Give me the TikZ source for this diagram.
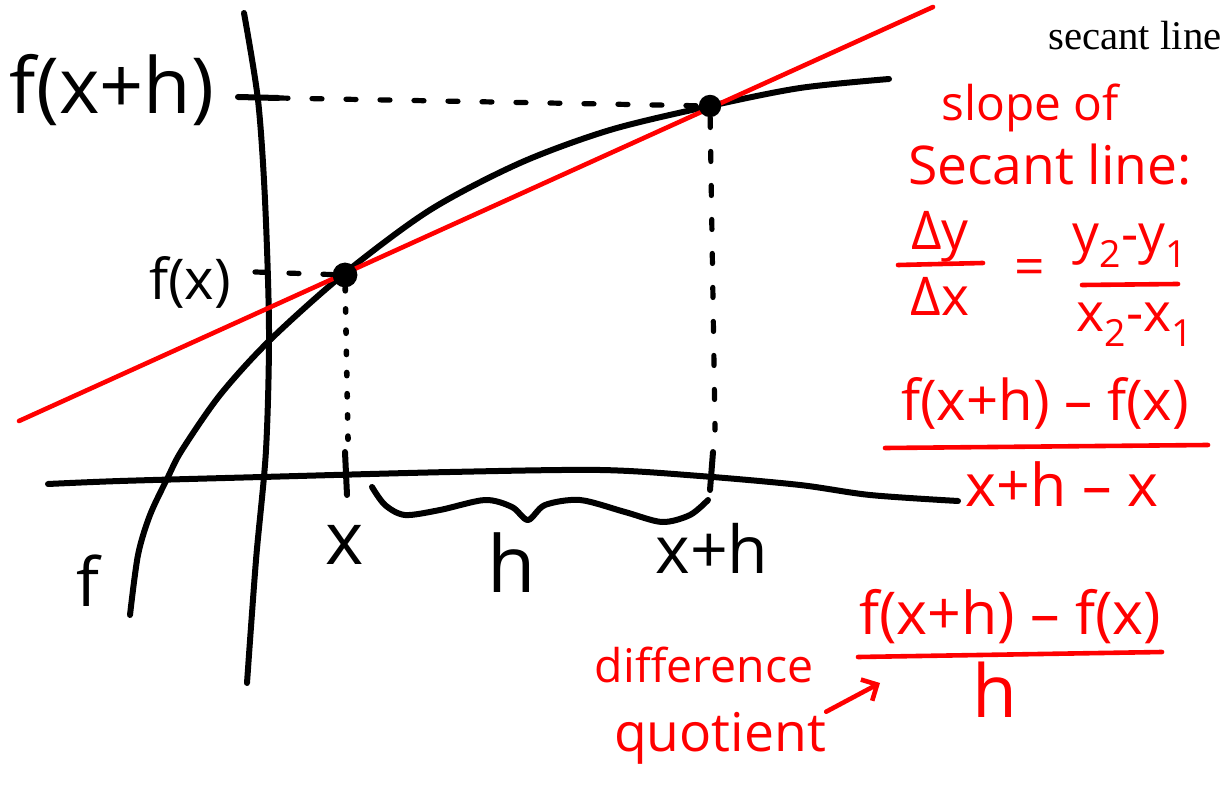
\documentclass[tikz,border=0pt]{standalone}
\usepackage{fontspec}
\setmainfont{Open Sans}
\newfontfamily\serifa{Liberation Serif}
\usetikzlibrary{arrows.meta, positioning}
\newcommand{\tam}[1]{\fontsize{#1}{#1}\selectfont}
\tikzstyle{trazo} = [line width=1.5mm, line cap=round, line join=round]
\tikzstyle{secante} = [line width=1.15mm, red, line cap=round]
\tikzstyle{guia} = [line width=1.3mm, line cap=round, dash pattern=on 2.5mm off 6mm]
\tikzstyle{punteada} = [line width=1.4mm, line cap=round, dash pattern=on 0.8mm off 4.5mm]
\tikzstyle{punto} = [circle, fill=black, inner sep=0pt, minimum size=6.2mm]
\tikzstyle{etiqueta} = [inner sep=0pt, text=black]
\tikzstyle{nota} = [inner sep=0pt, text=red]
\tikzstyle{barra} = [line width=1.15mm, red, line cap=round]
\tikzstyle{flecha} = [line width=1.15mm, red, line cap=round, -{Straight Barb[length=3mm, width=6mm]}]

\begin{document}
\begin{tikzpicture}[x=0.25mm, y=-0.25mm]
\useasboundingbox (0,0) rectangle (1232,787);

% Ejes
\draw [trazo] plot[smooth] coordinates {(244,13) (258,100) (265,200) (269,330) (266,450) (256,560) (247,683)};
\draw [trazo] plot[smooth] coordinates {(48,484) (120,481) (262,477) (450,472) (600,470) (700,476) (800,485) (870,495) (958,501)};

% Curva f
\draw [trazo] plot[smooth] coordinates {(130,615) (138,555) (150,515) (168,477) (182,450) (220,395) (270,340) (345,273) (430,210) (520,163) (610,130) (710,106) (800,88) (889,79)};

% Recta secante
\draw [secante] (19,421) -- (933,7);

% Puntos
\node (p1) [punto] at (345,275) {};
\node (p2) [punto, minimum size=5.6mm] at (710,106) {};

% Guias
\coordinate (t1) at (278,98);
\coordinate (t2) at (255,272);
\coordinate (t3) at (348,440);
\coordinate (t4) at (715,430);
\draw [trazo] (238,97) -- (t1);
\draw [guia] (t1) -- (p2);
\draw [guia] (t2) -- (p1);
\draw [punteada] (p1) -- (t3);
\draw [guia] (p2) -- (t4);
\draw [trazo] (345,452) -- (347,495);
\draw [trazo] (713,452) -- (710,490);

% Llave
\draw [trazo] plot[smooth] coordinates {(372,487) (385,505) (405,515) (440,510) (485,500) (512,507) (528,520) (545,505) (580,500) (625,512) (662,522) (690,515) (708,500)};

% Etiquetas
\node (lfxh) [etiqueta, font=\tam{55}] at (112,90)  {f(x+h)};
\node (lfx)  [etiqueta, font=\tam{40}] at (190,282) {f(x)};
\node (lx)   [etiqueta, font=\tam{52}] at (345,545) {x};
\node (lh)   [etiqueta, font=\tam{56}] at (512,563) {h};
\node (lxh)  [etiqueta, font=\tam{47}] at (712,548) {x+h};
\node (lf)   [etiqueta, font=\tam{48}] at (88,581)  {f};
\node (tit)  [etiqueta, font=\serifa\tam{29}] at (1135,36) {secant line};

% Pendiente
\node (pen1) [nota, font=\tam{34}] at (1030,108) {slope of};
\node (pen2) [nota, font=\tam{38}] at (1050,165) {Secant line:};
\node (dy)   [nota, font=\tam{38}] at (940,237) {Δy};
\node (dx)   [nota, font=\tam{38}] at (940,296) {Δx};
\node (igu)  [nota, font=\tam{38}] at (1030,273) {=};
\node (yy)   [nota, font=\tam{38}] at (1130,246) {y\textsubscript{2}-y\textsubscript{1}};
\node (xx)   [nota, font=\tam{38}] at (1135,325) {x\textsubscript{2}-x\textsubscript{1}};
\draw [barra] (898,265) -- (983,263);
\draw [barra] (1082,285) -- (1178,284);

\node (num1) [nota, font=\tam{40}] at (1045,403) {f(x+h) – f(x)};
\node (den1) [nota, font=\tam{42}] at (1062,484) {x+h – x};
\draw [barra] (885,448) -- (1208,445);

% Cociente de diferencias
\node (dif)  [nota, font=\tam{33}] at (704,665) {difference};
\node (quo)  [nota, font=\tam{38}] at (720,738) {quotient};
\node (num2) [nota, font=\tam{42}] at (1010,617) {f(x+h) – f(x)};
\node (den2) [nota, font=\tam{52}] at (995,690) {h};
\draw [barra] (858,657) -- (1162,652);
\coordinate (pq) at (880,683);
\draw [flecha] (quo.north east) -- (pq);

\end{tikzpicture}
\end{document}
